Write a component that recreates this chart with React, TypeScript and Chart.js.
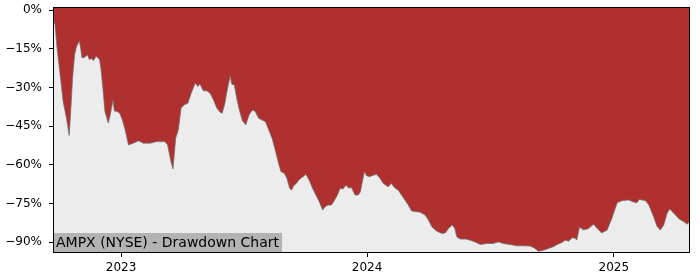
import React, { useEffect, useRef } from "react";
import { Chart, registerables } from "chart.js";

Chart.register(...registerables);

const dates: string[] = [
  "2022-09-22","2022-09-25","2022-09-28","2022-10-02","2022-10-07","2022-10-12","2022-10-16","2022-10-18","2022-10-21","2022-10-24",
  "2022-10-27","2022-10-31","2022-11-02","2022-11-04","2022-11-08","2022-11-12","2022-11-15","2022-11-18","2022-11-21","2022-11-25",
  "2022-11-30","2022-12-02","2022-12-05","2022-12-08","2022-12-13","2022-12-16","2022-12-20","2022-12-22","2022-12-26","2022-12-30",
  "2023-01-03","2023-01-07","2023-01-12","2023-01-19","2023-01-27","2023-02-03","2023-02-13","2023-02-23","2023-03-07","2023-03-11",
  "2023-03-16","2023-03-19","2023-03-23","2023-03-27","2023-03-31","2023-04-05","2023-04-10","2023-04-15","2023-04-21","2023-04-25",
  "2023-04-28","2023-05-03","2023-05-08","2023-05-13","2023-05-18","2023-05-23","2023-05-28","2023-05-31","2023-06-04","2023-06-08",
  "2023-06-12","2023-06-14","2023-06-18","2023-06-22","2023-06-26","2023-06-30","2023-07-05","2023-07-10","2023-07-15","2023-07-19",
  "2023-07-24","2023-07-29","2023-08-03","2023-08-08","2023-08-13","2023-08-17","2023-08-22","2023-08-26","2023-08-31","2023-09-04",
  "2023-09-08","2023-09-11","2023-09-14","2023-09-18","2023-09-23","2023-09-28","2023-10-02","2023-10-07","2023-10-12","2023-10-17",
  "2023-10-22","2023-10-27","2023-10-31","2023-11-04","2023-11-09","2023-11-13","2023-11-18","2023-11-22","2023-11-26","2023-12-01",
  "2023-12-04","2023-12-09","2023-12-14","2023-12-19","2023-12-22","2023-12-25","2023-12-28","2023-12-31","2024-01-05","2024-01-08",
  "2024-01-15","2024-01-20","2024-01-25","2024-02-01","2024-02-06","2024-02-11","2024-02-16","2024-02-21","2024-02-26","2024-03-02",
  "2024-03-07","2024-03-15","2024-03-20","2024-03-27","2024-04-01","2024-04-06","2024-04-13","2024-04-21","2024-04-26","2024-05-01",
  "2024-05-06","2024-05-10","2024-05-13","2024-05-18","2024-05-26","2024-06-02","2024-06-09","2024-06-17","2024-06-27","2024-07-06",
  "2024-07-14","2024-07-21","2024-07-31","2024-08-10","2024-08-20","2024-08-30","2024-09-06","2024-09-11","2024-09-19","2024-09-26",
  "2024-10-03","2024-10-09","2024-10-16","2024-10-21","2024-10-26","2024-10-31","2024-11-05","2024-11-07","2024-11-11","2024-11-17",
  "2024-11-24","2024-12-02","2024-12-07","2024-12-14","2024-12-22","2024-12-29","2025-01-06","2025-01-13","2025-01-23","2025-01-30",
  "2025-02-04","2025-02-08","2025-02-17","2025-02-22","2025-03-01","2025-03-06","2025-03-11","2025-03-16","2025-03-21","2025-03-25",
  "2025-03-31","2025-04-08","2025-04-15","2025-04-20","2025-04-24",
];

const drawdown: number[] = [
  -3.5,-5.6,-14.7,-23.8,-35.4,-41.9,-48.6,-40.6,-26.4,-17.3,
  -14.1,-11.9,-14.7,-18.6,-18.3,-17.3,-19.2,-18.8,-19.6,-17.9,
  -19.2,-22.5,-30.2,-39.3,-43.8,-40.6,-34.8,-39.1,-39.3,-40.0,
  -42.6,-46.4,-52.3,-51.6,-50.7,-51.6,-51.6,-51.0,-51.0,-52.3,
  -58.8,-61.6,-49.7,-46.4,-38.0,-36.7,-36.1,-32.2,-28.3,-29.6,
  -28.7,-31.3,-31.3,-32.2,-34.8,-38.0,-39.6,-40.0,-36.1,-30.2,
  -25.5,-28.7,-29.0,-34.8,-39.3,-42.9,-44.5,-40.6,-38.7,-39.3,
  -41.9,-42.6,-43.2,-46.4,-49.7,-53.6,-58.8,-62.6,-63.3,-65.2,
  -69.1,-69.8,-68.1,-67.2,-65.5,-64.6,-63.7,-65.9,-69.1,-71.7,
  -74.3,-77.5,-76.2,-75.6,-75.6,-74.0,-71.7,-69.1,-69.4,-67.8,
  -68.9,-68.9,-71.7,-71.7,-70.4,-66.5,-62.6,-64.2,-64.6,-64.2,
  -63.7,-65.2,-67.2,-68.5,-67.2,-68.9,-69.8,-71.7,-73.6,-75.6,
  -77.9,-78.2,-78.4,-79.5,-81.4,-84.0,-85.7,-86.6,-86.4,-84.6,
  -83.3,-84.6,-87.9,-88.8,-88.8,-89.2,-89.9,-90.9,-90.5,-90.5,
  -89.9,-90.5,-90.9,-91.4,-91.4,-91.5,-92.4,-93.5,-93.1,-92.4,
  -91.8,-90.9,-90.1,-89.2,-89.6,-88.3,-88.5,-89.2,-84.2,-85.2,
  -84.8,-83.0,-84.6,-86.4,-85.3,-80.8,-74.7,-73.9,-73.6,-74.4,
  -74.7,-73.4,-73.9,-75.6,-80.1,-83.8,-85.3,-83.3,-78.8,-77.1,
  -78.8,-81.0,-82.1,-83.0,-81.7,
];

const yTicks: number[] = [0, -15, -30, -45, -60, -75, -90];
const xTickYears: number[] = [2023, 2024, 2025];
const yMin = -93.8;
const yMax = 1.2;
const chartTitle = "AMPX (NYSE) - Drawdown Chart";

const FONT = "'DejaVu Sans', sans-serif";

export default function App() {
  const ref = useRef<HTMLCanvasElement | null>(null);

  useEffect(() => {
    const canvas = ref.current;
    if (!canvas) return;
    const points = dates.map((d, i) => ({ x: Date.parse(d), y: drawdown[i] }));

    const decor = {
      id: "decor",
      beforeDatasetsDraw(chart: any) {
        const { ctx, chartArea: a } = chart;
        ctx.save();
        ctx.fillStyle = "#ececec";
        ctx.fillRect(a.left, a.top, a.right - a.left, a.bottom - a.top);
        ctx.restore();
      },
      afterDatasetsDraw(chart: any) {
        const { ctx, chartArea: a } = chart;
        ctx.save();
        ctx.font = `14px ${FONT}`;
        const w = ctx.measureText(chartTitle).width;
        ctx.fillStyle = "#b3b3b3";
        ctx.fillRect(a.left, a.bottom - 19, w + 6, 19);
        ctx.fillStyle = "#000";
        ctx.textBaseline = "alphabetic";
        ctx.textAlign = "left";
        ctx.fillText(chartTitle, a.left + 3, a.bottom - 5);
        ctx.strokeStyle = "#000";
        ctx.lineWidth = 1;
        ctx.strokeRect(a.left + 0.5, a.top + 0.5, a.right - a.left - 1, a.bottom - a.top);
        ctx.restore();
      },
    };

    const chart = new Chart(canvas, {
      type: "line",
      data: {
        datasets: [
          {
            data: points,
            borderColor: "rgba(110,110,110,0.9)",
            borderWidth: 0.8,
            backgroundColor: "#b03030",
            fill: "end",
            pointRadius: 0,
            tension: 0,
          },
        ],
      },
      options: {
        animation: false,
        responsive: false,
        maintainAspectRatio: false,
        layout: { padding: { top: 7, right: 10, left: 0, bottom: 0 } },
        plugins: { legend: { display: false }, tooltip: { enabled: false }, title: { display: false } },
        scales: {
          x: {
            type: "linear",
            min: Date.parse(dates[0]),
            max: Date.parse(dates[dates.length - 1]),
            afterFit: (s: any) => {
              s.height = 28;
              s.paddingLeft = 0;
              s.paddingRight = 0;
            },
            afterBuildTicks: (s: any) => {
              s.ticks = xTickYears.map((y) => ({ value: Date.UTC(y, 0, 1) }));
            },
            ticks: {
              autoSkip: false,
              maxRotation: 0,
              padding: 4,
              color: "#000",
              font: { family: FONT, size: 12 },
              callback: (v: any) => String(new Date(v).getUTCFullYear()),
            },
            grid: { drawOnChartArea: false, drawTicks: true, tickLength: 5, tickColor: "#000" },
            border: { display: false },
          },
          y: {
            type: "linear",
            min: yMin,
            max: yMax,
            afterFit: (s: any) => {
              s.width = 53;
              s.paddingTop = 0;
              s.paddingBottom = 0;
            },
            afterBuildTicks: (s: any) => {
              s.ticks = yTicks.map((v) => ({ value: v }));
            },
            ticks: {
              autoSkip: false,
              padding: 7,
              color: "#000",
              font: { family: FONT, size: 12 },
              callback: (v: any) => (v < 0 ? "\u2212" + Math.abs(v) : String(v)) + "%",
            },
            grid: { drawOnChartArea: false, drawTicks: true, tickLength: 4, tickColor: "#000" },
            border: { display: false },
          },
        },
      },
      plugins: [decor],
    } as any);

    return () => chart.destroy();
  }, []);

  return (
    <div style={{ position: "fixed", left: 0, top: 0, width: 700, height: 280, background: "#fff" }}>
      <canvas ref={ref} width={700} height={280} style={{ width: 700, height: 280, display: "block" }} />
    </div>
  );
}
